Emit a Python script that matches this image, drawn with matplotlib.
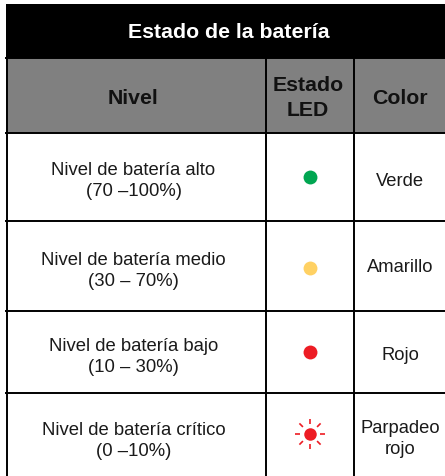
import numpy as np
import matplotlib
matplotlib.use("Agg")
import matplotlib.pyplot as plt
from matplotlib.patches import Rectangle

plt.rcParams['font.family'] = ['Liberation Sans', 'DejaVu Sans']

title = "Estado de la batería"
headers = ["Nivel", "Estado\nLED", "Color"]
niveles = ["Nivel de batería alto\n(70 –100%)",
           "Nivel de batería medio\n(30 – 70%)",
           "Nivel de batería bajo\n(10 – 30%)",
           "Nivel de batería crítico\n(0 –10%)"]
colores = ["Verde", "Amarillo", "Rojo", "Parpadeo\nrojo"]
led_colors = ["#00a651", "#ffd163", "#ed1c24", "#ed1c24"]

col_lines = [6.5, 266, 354]
row_lines = [132.5, 221, 310.5, 393]
row_text_y = [181, 271, 357, 441]
led_y = [177, 268, 352, 434]
color_text_y = [181, 268, 355, 439]

fig = plt.figure(figsize=(4.45, 4.76), dpi=100)
ax = fig.add_axes([0, 0, 1, 1])
ax.set_xlim(0, 445)
ax.set_ylim(476, 0)
ax.axis('off')

ax.add_patch(Rectangle((6, 4), 439, 54, color='black', lw=0))
ax.add_patch(Rectangle((6, 58), 439, 74.5, color='#808080', lw=0))

for x in col_lines:
    top = 4 if x == col_lines[0] else 58
    ax.plot([x, x], [top, 476], color='black', lw=1.4, solid_capstyle='butt')
for y in row_lines:
    ax.plot([5, 445], [y, y], color='black', lw=1.4, solid_capstyle='butt')
ax.plot([5, 445], [58, 58], color='black', lw=1.4, solid_capstyle='butt')

ax.text(229, 32, title, color='white', fontsize=15.3, fontweight='bold', ha='center', va='center')
ax.text(133, 98, headers[0], color='#111111', fontsize=15.3, fontweight='bold', ha='center', va='center')
ax.text(308, 98, headers[1], color='#111111', fontsize=15.3, fontweight='bold', ha='center', va='center', linespacing=1.4)
ax.text(400, 98, headers[2], color='#111111', fontsize=15.3, fontweight='bold', ha='center', va='center')

for i in range(4):
    ax.text(133.5, row_text_y[i], niveles[i], color='#1a1a1a', fontsize=13.3, ha='center', va='center', linespacing=1.35)
    ax.plot(310, led_y[i], 'o', color=led_colors[i], ms=10 if i < 3 else 9, mew=0)
    ax.text(400, color_text_y[i], colores[i], color='#1a1a1a', fontsize=13.2, ha='center', va='center', linespacing=1.25)

# rays around the blinking led
for ang in np.deg2rad(np.arange(0, 360, 45)):
    ax.plot([310 + 10 * np.cos(ang), 310 + 15 * np.cos(ang)],
            [434 + 10 * np.sin(ang), 434 + 15 * np.sin(ang)],
            color=led_colors[3], lw=1.2, solid_capstyle='butt')

fig.savefig("out.png", dpi=100)
